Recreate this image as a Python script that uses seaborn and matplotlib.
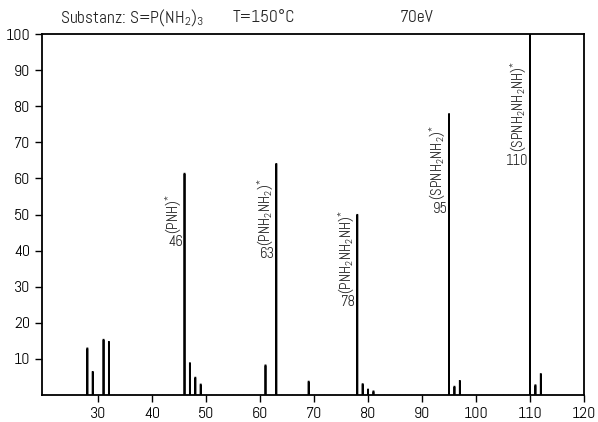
import matplotlib
matplotlib.use("Agg")
import matplotlib.pyplot as plt
import seaborn as sns
import pandas as pd

# m/z values and relative intensities
mz = [28, 29, 31, 32, 46, 47, 48, 49, 61, 63, 69, 78, 79, 80, 81, 95, 96, 97, 110, 111, 112]
intensity = [12.9, 6.4, 15.3, 14.7, 61.3, 8.8, 4.8, 2.9, 8.2, 64.0, 3.7, 49.9, 3.0, 1.5, 1.0, 77.8, 2.3, 3.9, 100.0, 2.7, 5.8]

# annotated peaks
label_mz = [46, 63, 78, 95, 110]
label_text = [r"(PNH)$^{*}$", r"(PNH$_2$NH$_2$)$^{*}$", r"(PNH$_2$NH$_2$NH)$^{*}$",
              r"(SPNH$_2$NH$_2$)$^{*}$", r"(SPNH$_2$NH$_2$NH)$^{*}$"]
# layout: baseline (bottom) of rotated labels in data units
label_bottom = [44.7, 41.4, 28.0, 53.9, 67.2]

xticks = [30, 40, 50, 60, 70, 80, 90, 100, 110, 120]
yticks = [10, 20, 30, 40, 50, 60, 70, 80, 90, 100]

df = pd.DataFrame({"mz": mz, "intensity": intensity})

sns.set_style("ticks")
plt.rcParams["font.family"] = ["Abel", "Roboto Condensed", "DejaVu Sans"]
plt.rcParams["mathtext.fontset"] = "custom"
plt.rcParams["mathtext.rm"] = "Abel"
plt.rcParams["mathtext.it"] = "Abel"
plt.rcParams["mathtext.bf"] = "Abel"
plt.rcParams["mathtext.fallback"] = "stixsans"

fig = plt.figure(figsize=(5.98, 4.22), dpi=100)
ax = fig.add_axes([42 / 598, 1 - 395 / 422, 542 / 598, 361 / 422])

sns.histplot(data=df, x="mz", weights="intensity", discrete=True, shrink=0.02,
             color="black", edgecolor="black", linewidth=1.3, alpha=1, ax=ax)
for p in ax.patches:
    p.set_snap(False)

ax.set_xlim(19.6, 120)
ax.set_ylim(0, 100)
ax.set_xticks(xticks)
ax.set_yticks(yticks)
ax.set_xlabel("")
ax.set_ylabel("")
ax.tick_params(axis="both", labelsize=11.5, length=5, width=1, direction="out", colors="black")
for s in ax.spines.values():
    s.set_visible(True)
    s.set_linewidth(1.3)
    s.set_color("black")

for m, t, yb in zip(label_mz, label_text, label_bottom):
    ax.text(m - 0.3, yb, t, rotation=90, ha="right", va="bottom", fontsize=10.5)
    ax.text(m - 0.3, yb - 0.4, str(m), ha="right", va="top", fontsize=10.5)

fig.text(60 / 598, 1 - 18 / 422, r"Substanz: S=P(NH$_2$)$_3$", fontsize=12.5, va="center", ha="left")
fig.text(233 / 598, 1 - 18 / 422, "T=150°C", fontsize=12.5, va="center", ha="left")
fig.text(400 / 598, 1 - 18 / 422, "70eV", fontsize=12.5, va="center", ha="left")

fig.savefig("out.png", dpi=100)
